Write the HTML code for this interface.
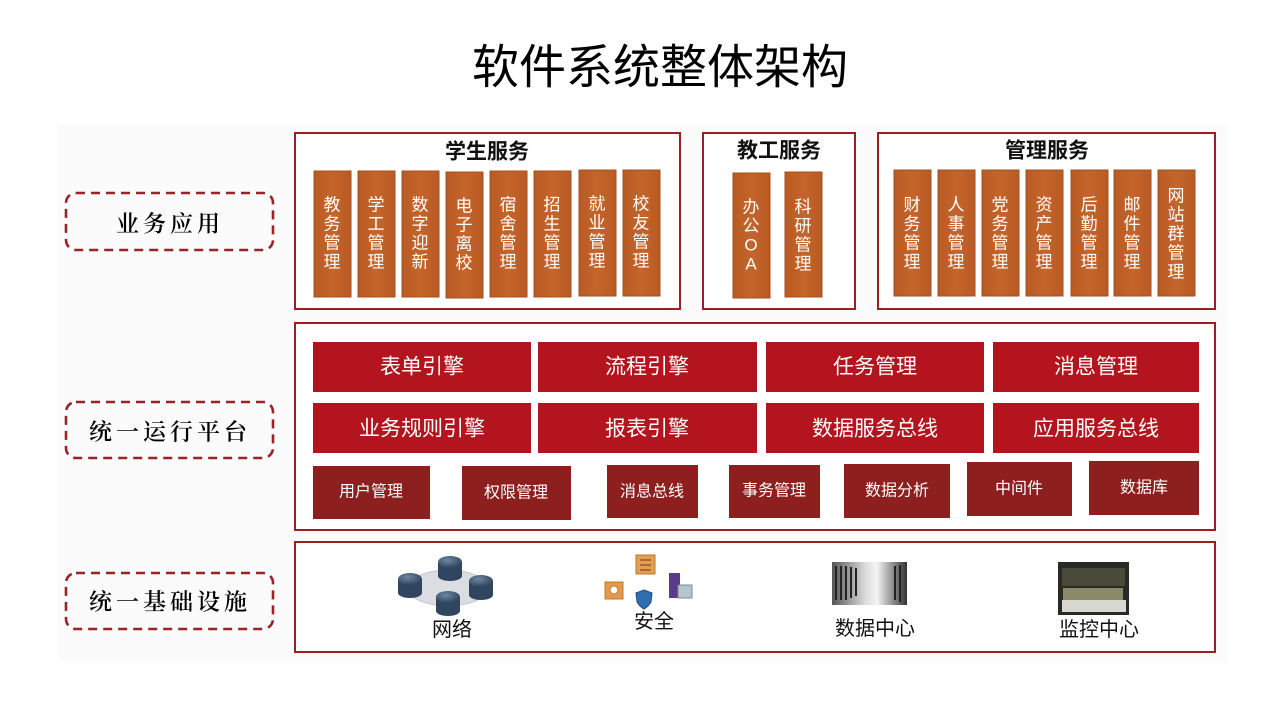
<!DOCTYPE html>
<html><head><meta charset="utf-8">
<style>
html,body{margin:0;padding:0;background:#fff;}
svg{display:block;}
text{font-family:"Liberation Sans","Noto Sans CJK SC",sans-serif;}
.vt{fill:#fff;font-size:17px;text-anchor:middle;dominant-baseline:central;}
.pt{fill:#fff;font-size:21px;text-anchor:middle;dominant-baseline:central;}
.st{fill:#fff;font-size:16px;text-anchor:middle;dominant-baseline:central;}
.gt{fill:#111;font-size:21px;font-weight:bold;text-anchor:middle;dominant-baseline:central;}
.lt{fill:#000;font-size:23px;font-weight:600;text-anchor:middle;dominant-baseline:central;letter-spacing:4px;font-family:"Liberation Serif","Noto Serif CJK SC",serif;}
.it{fill:#111;font-size:20px;text-anchor:middle;dominant-baseline:central;}
</style></head>
<body>
<svg width="1280" height="720" viewBox="0 0 1280 720" xmlns="http://www.w3.org/2000/svg">
<defs>
<linearGradient id="org" x1="0" x2="1" y1="0" y2="0">
<stop offset="0" stop-color="#b85a22"/><stop offset="0.5" stop-color="#c4652c"/><stop offset="1" stop-color="#b85a22"/>
</linearGradient>
<linearGradient id="dc" x1="0" x2="1" y1="0" y2="0">
<stop offset="0" stop-color="#555"/><stop offset="0.45" stop-color="#ddd"/><stop offset="0.6" stop-color="#f4f4f4"/><stop offset="1" stop-color="#333"/>
</linearGradient>
<radialGradient id="rt" cx="0.4" cy="0.35" r="0.7">
<stop offset="0" stop-color="#6d88a3"/><stop offset="1" stop-color="#2c4058"/>
</radialGradient>
</defs>
<rect x="0" y="0" width="1280" height="720" fill="#fff"/>
<rect x="58" y="124" width="1170" height="538" fill="#fbfbfb"/>

<text x="660" y="67" font-size="47" text-anchor="middle" dominant-baseline="central" fill="#000">软件系统整体架构</text>

<!-- left dashed labels -->
<g fill="none" stroke="#9b2226" stroke-width="2.6" stroke-dasharray="9 6">
<rect x="66" y="193" width="207" height="57" rx="10"/>
<rect x="66" y="402" width="207" height="56" rx="10"/>
<rect x="66" y="573" width="207" height="56" rx="10"/>
</g>
<text class="lt" x="170" y="224">业务应用</text>
<text class="lt" x="170" y="432">统一运行平台</text>
<text class="lt" x="170" y="602">统一基础设施</text>

<!-- business app boxes -->
<g fill="#fff" stroke="#9e1f22" stroke-width="2">
<rect x="295" y="133" width="385" height="176"/>
<rect x="703" y="133" width="152" height="176"/>
<rect x="878" y="133" width="337" height="176"/>
</g>
<text class="gt" x="487" y="152">学生服务</text>
<text class="gt" x="779" y="151">教工服务</text>
<text class="gt" x="1047" y="151">管理服务</text>

<g fill="url(#org)" stroke="#a4501f" stroke-width="1">
<rect x="314" y="171" width="37" height="126"/>
<rect x="358" y="171" width="37" height="126"/>
<rect x="402" y="171" width="37" height="126"/>
<rect x="446" y="172" width="37" height="126"/>
<rect x="490" y="171" width="37" height="126"/>
<rect x="534" y="171" width="37" height="126"/>
<rect x="579" y="170" width="37" height="126"/>
<rect x="623" y="170" width="37" height="126"/>
<rect x="733" y="173" width="37" height="125"/>
<rect x="785" y="172" width="37" height="125"/>
<rect x="894" y="170" width="37" height="126"/>
<rect x="938" y="170" width="37" height="126"/>
<rect x="982" y="170" width="37" height="126"/>
<rect x="1026" y="170" width="37" height="126"/>
<rect x="1071" y="170" width="37" height="126"/>
<rect x="1114" y="170" width="37" height="126"/>
<rect x="1158" y="170" width="37" height="126"/>
</g>

<g>
<text class="vt" x="332" y="205">教</text><text class="vt" x="332" y="224">务</text><text class="vt" x="332" y="243">管</text><text class="vt" x="332" y="262">理</text>
<text class="vt" x="376" y="205">学</text><text class="vt" x="376" y="224">工</text><text class="vt" x="376" y="243">管</text><text class="vt" x="376" y="262">理</text>
<text class="vt" x="420" y="205">数</text><text class="vt" x="420" y="224">字</text><text class="vt" x="420" y="243">迎</text><text class="vt" x="420" y="262">新</text>
<text class="vt" x="464" y="206">电</text><text class="vt" x="464" y="225">子</text><text class="vt" x="464" y="244">离</text><text class="vt" x="464" y="263">校</text>
<text class="vt" x="508" y="205">宿</text><text class="vt" x="508" y="224">舍</text><text class="vt" x="508" y="243">管</text><text class="vt" x="508" y="262">理</text>
<text class="vt" x="552" y="205">招</text><text class="vt" x="552" y="224">生</text><text class="vt" x="552" y="243">管</text><text class="vt" x="552" y="262">理</text>
<text class="vt" x="597" y="204">就</text><text class="vt" x="597" y="223">业</text><text class="vt" x="597" y="242">管</text><text class="vt" x="597" y="261">理</text>
<text class="vt" x="641" y="204">校</text><text class="vt" x="641" y="223">友</text><text class="vt" x="641" y="242">管</text><text class="vt" x="641" y="261">理</text>

<text class="vt" x="751" y="207">办</text><text class="vt" x="751" y="226">公</text><text class="vt" x="751" y="245">O</text><text class="vt" x="751" y="264">A</text>
<text class="vt" x="803" y="207">科</text><text class="vt" x="803" y="226">研</text><text class="vt" x="803" y="245">管</text><text class="vt" x="803" y="264">理</text>

<text class="vt" x="912" y="205">财</text><text class="vt" x="912" y="224">务</text><text class="vt" x="912" y="243">管</text><text class="vt" x="912" y="262">理</text>
<text class="vt" x="956" y="205">人</text><text class="vt" x="956" y="224">事</text><text class="vt" x="956" y="243">管</text><text class="vt" x="956" y="262">理</text>
<text class="vt" x="1000" y="205">党</text><text class="vt" x="1000" y="224">务</text><text class="vt" x="1000" y="243">管</text><text class="vt" x="1000" y="262">理</text>
<text class="vt" x="1044" y="205">资</text><text class="vt" x="1044" y="224">产</text><text class="vt" x="1044" y="243">管</text><text class="vt" x="1044" y="262">理</text>
<text class="vt" x="1089" y="205">后</text><text class="vt" x="1089" y="224">勤</text><text class="vt" x="1089" y="243">管</text><text class="vt" x="1089" y="262">理</text>
<text class="vt" x="1132" y="205">邮</text><text class="vt" x="1132" y="224">件</text><text class="vt" x="1132" y="243">管</text><text class="vt" x="1132" y="262">理</text>
<text class="vt" x="1176" y="196">网</text><text class="vt" x="1176" y="215">站</text><text class="vt" x="1176" y="234">群</text><text class="vt" x="1176" y="253">管</text><text class="vt" x="1176" y="272">理</text>
</g>

<!-- platform -->
<rect x="295" y="323" width="920" height="207" fill="#fff" stroke="#9e1f22" stroke-width="2"/>
<g fill="#b3141d">
<rect x="313" y="342" width="218" height="50"/>
<rect x="538" y="342" width="219" height="50"/>
<rect x="766" y="342" width="218" height="50"/>
<rect x="993" y="342" width="206" height="50"/>
<rect x="313" y="403" width="218" height="50"/>
<rect x="538" y="403" width="219" height="50"/>
<rect x="766" y="403" width="218" height="50"/>
<rect x="993" y="403" width="206" height="50"/>
</g>
<text class="pt" x="422" y="367">表单引擎</text>
<text class="pt" x="647" y="367">流程引擎</text>
<text class="pt" x="875" y="367">任务管理</text>
<text class="pt" x="1096" y="367">消息管理</text>
<text class="pt" x="422" y="429">业务规则引擎</text>
<text class="pt" x="647" y="429">报表引擎</text>
<text class="pt" x="875" y="429">数据服务总线</text>
<text class="pt" x="1096" y="429">应用服务总线</text>

<g fill="#8e1f1f">
<rect x="313" y="466" width="117" height="53"/>
<rect x="462" y="466" width="109" height="54"/>
<rect x="607" y="465" width="91" height="53"/>
<rect x="729" y="465" width="91" height="53"/>
<rect x="844" y="464" width="106" height="54"/>
<rect x="967" y="462" width="105" height="54"/>
<rect x="1089" y="461" width="110" height="54"/>
</g>
<text class="st" x="371" y="492">用户管理</text>
<text class="st" x="516" y="493">权限管理</text>
<text class="st" x="652" y="492">消息总线</text>
<text class="st" x="774" y="491">事务管理</text>
<text class="st" x="897" y="491">数据分析</text>
<text class="st" x="1019" y="489">中间件</text>
<text class="st" x="1144" y="488">数据库</text>

<!-- infra -->
<rect x="295" y="542" width="920" height="110" fill="#fff" stroke="#9e1f22" stroke-width="2"/>

<!-- network icon -->
<ellipse cx="448" cy="588" rx="40" ry="18" fill="#dcdde2" stroke="#c4c6cc"/>
<g>
<g transform="translate(410,587)"><rect x="-12" y="-8" width="24" height="14" fill="#2f4560"/><ellipse cx="0" cy="6" rx="12" ry="5" fill="#2f4560"/><ellipse cx="0" cy="-8" rx="12" ry="6" fill="url(#rt)"/></g>
<g transform="translate(450,570)"><rect x="-12" y="-8" width="24" height="14" fill="#2f4560"/><ellipse cx="0" cy="6" rx="12" ry="5" fill="#2f4560"/><ellipse cx="0" cy="-8" rx="12" ry="6" fill="url(#rt)"/></g>
<g transform="translate(481,589)"><rect x="-12" y="-8" width="24" height="14" fill="#2f4560"/><ellipse cx="0" cy="6" rx="12" ry="5" fill="#2f4560"/><ellipse cx="0" cy="-8" rx="12" ry="6" fill="url(#rt)"/></g>
<g transform="translate(448,605)"><rect x="-12" y="-8" width="24" height="14" fill="#2f4560"/><ellipse cx="0" cy="6" rx="12" ry="5" fill="#2f4560"/><ellipse cx="0" cy="-8" rx="12" ry="6" fill="url(#rt)"/></g>
</g>
<text class="it" x="452" y="630">网络</text>

<!-- security icons -->
<rect x="636" y="555" width="19" height="19" fill="#e0a050" stroke="#b87a30"/>
<line x1="640" y1="560" x2="651" y2="560" stroke="#a0522d" stroke-width="1.5"/>
<line x1="640" y1="565" x2="651" y2="565" stroke="#a0522d" stroke-width="1.5"/>
<line x1="640" y1="570" x2="651" y2="570" stroke="#a0522d" stroke-width="1.5"/>
<rect x="605" y="582" width="18" height="17" fill="#e39a4a" stroke="#c07830"/>
<circle cx="614" cy="590" r="4" fill="#fff" stroke="#c07830"/>
<path d="M644 590 L652 593 L651 602 Q648 607 644 609 Q640 607 637 602 L636 593 Z" fill="#2f6fb0" stroke="#1d4d80"/>
<rect x="669" y="573" width="11" height="25" fill="#5a3a8a"/>
<rect x="678" y="585" width="14" height="13" fill="#b9c4cf" stroke="#7a8a9a"/>
<text class="it" x="654" y="622">安全</text>

<!-- data center image -->
<rect x="832" y="562" width="75" height="43" fill="url(#dc)"/>
<g stroke="#222" stroke-width="2">
<line x1="836" y1="566" x2="836" y2="600"/><line x1="841" y1="566" x2="841" y2="600"/><line x1="846" y1="566" x2="846" y2="600"/><line x1="851" y1="567" x2="851" y2="598"/><line x1="856" y1="568" x2="856" y2="596"/>
<line x1="895" y1="566" x2="895" y2="600"/><line x1="900" y1="565" x2="900" y2="602"/>
</g>
<text class="it" x="875" y="629">数据中心</text>

<!-- monitoring center image -->
<rect x="1058" y="562" width="71" height="53" fill="#2a2a24"/>
<rect x="1062" y="568" width="63" height="18" fill="#4a4a3a"/>
<rect x="1063" y="588" width="60" height="13" fill="#8a8a6a"/>
<rect x="1062" y="600" width="64" height="12" fill="#d8d8d0"/>
<text class="it" x="1099" y="630">监控中心</text>
</svg>
</body></html>
